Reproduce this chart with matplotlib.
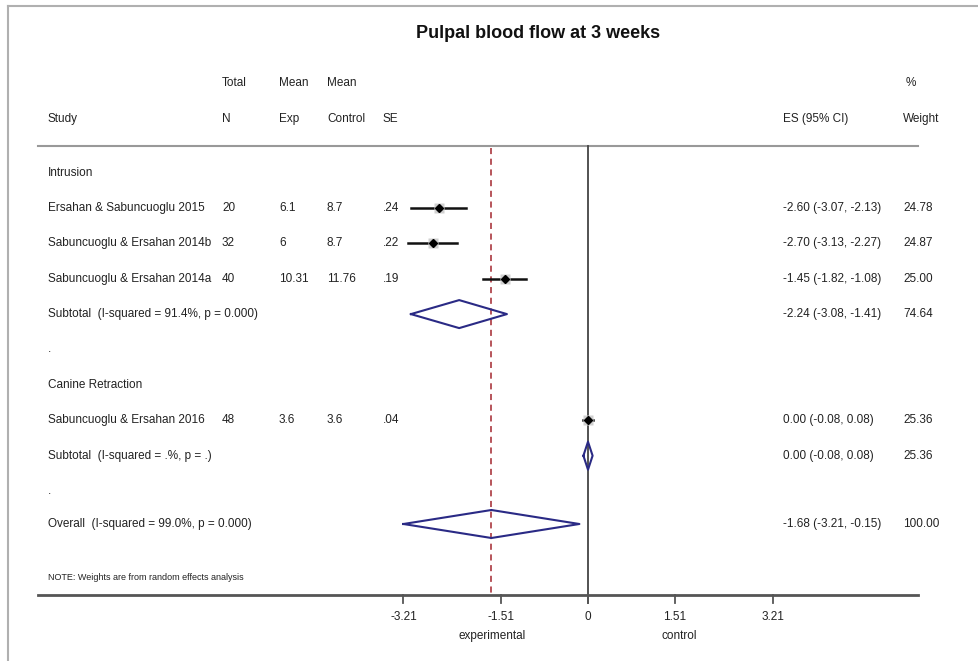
import matplotlib
matplotlib.use("Agg")
import matplotlib.pyplot as plt
from matplotlib.transforms import blended_transform_factory

plt.rcParams['font.family'] = ['Liberation Sans', 'DejaVu Sans']

# ---------------- data ----------------
title = "Pulpal blood flow at 3 weeks"
studies = ["Ersahan & Sabuncuoglu 2015", "Sabuncuoglu & Ersahan 2014b",
           "Sabuncuoglu & Ersahan 2014a", "Sabuncuoglu & Ersahan 2016"]
total_n = ["20", "32", "40", "48"]
mean_exp = ["6.1", "6", "10.31", "3.6"]
mean_ctrl = ["8.7", "8.7", "11.76", "3.6"]
se = [".24", ".22", ".19", ".04"]
es = [-2.60, -2.70, -1.45, 0.00]
lo = [-3.07, -3.13, -1.82, -0.08]
hi = [-2.13, -2.27, -1.08, 0.08]
weights = ["24.78", "24.87", "25.00", "25.36"]

sub_labels = ["Subtotal  (I-squared = 91.4%, p = 0.000)", "Subtotal  (I-squared = .%, p = .)"]
sub_es = [-2.24, 0.00]
sub_lo = [-3.08, -0.08]
sub_hi = [-1.41, 0.08]
sub_w = ["74.64", "25.36"]

overall_label = "Overall  (I-squared = 99.0%, p = 0.000)"
ov_es, ov_lo, ov_hi = -1.68, -3.21, -0.15
ov_w = "100.00"

groups = ["Intrusion", "Canine Retraction"]
ticks = [-3.21, -1.51, 0, 1.51, 3.21]
tick_labels = ["-3.21", "-1.51", "0", "1.51", "3.21"]
note = "NOTE: Weights are from random effects analysis"

# ---------------- layout ----------------
W, H = 979, 661
x0px, upx = 588.0, 57.5          # pixel of x=0, pixels per unit
fig = plt.figure(figsize=(W / 100, H / 100), dpi=100)
ax = fig.add_axes([0, 0, 1, 1])
ax.set_xlim(-x0px / upx, (W - x0px) / upx)
ax.set_ylim(H, 0)
ax.axis('off')
tr = blended_transform_factory(ax.transAxes, ax.transData)

def fx(p):
    return p / W

def dx(p):
    return (p - x0px) / upx

txt = dict(fontsize=8.5, color='#222222', va='center', transform=tr)

# border
ax.plot([dx(8), dx(8)], [H + 5, 6], color='#b0b0b0', lw=1.5, clip_on=False)
ax.plot([dx(8), dx(W + 5)], [6, 6], color='#b0b0b0', lw=1.5, clip_on=False)

ax.text(fx(538), 33, title, fontsize=13, fontweight='bold', ha='center',
        va='center', color='#111111', transform=tr)

col = dict(study=48, n=222, exp=279, ctrl=327, se=383, es=783, w=903)
yh1, yh2 = 83, 119
ax.text(fx(col['n']), yh1, "Total", **txt)
ax.text(fx(col['exp']), yh1, "Mean", **txt)
ax.text(fx(col['ctrl']), yh1, "Mean", **txt)
ax.text(fx(906), yh1, "%", **txt)
for k, s in [('study', 'Study'), ('n', 'N'), ('exp', 'Exp'), ('ctrl', 'Control'),
             ('se', 'SE'), ('es', 'ES (95% CI)'), ('w', 'Weight')]:
    ax.text(fx(col[k]), yh2, s, **txt)

y_top_line, y_axis = 146, 595
ax.plot([dx(38), dx(918)], [y_top_line, y_top_line], color='#999999', lw=1.5)

row0, step = 172.5, 35.4
def ry(i):
    return row0 + i * step

# vertical lines
ax.plot([0, 0], [y_top_line, y_axis + 8], color='#444444', lw=1.3, zorder=2)
ax.plot([ov_es, ov_es], [y_top_line + 2, y_axis], color='#a3262e', lw=1.1,
        dashes=(4, 3), zorder=2)

def diamond(c, l, h, y, hh=14):
    ax.plot([l, c, h, c, l], [y, y - hh, y, y + hh, y], color='#2a2a85', lw=1.5, zorder=4)

def fmt_ci(e, l, h):
    return f"{e:.2f} ({l:.2f}, {h:.2f})"

study_rows = [1, 2, 3, 7]
ax.text(fx(col['study']), ry(0), groups[0], **txt)
ax.text(fx(col['study']), ry(6), groups[1], **txt)
for i, r in enumerate(study_rows):
    y = ry(r)
    ax.text(fx(col['study']), y, studies[i], **txt)
    ax.text(fx(col['n']), y, total_n[i], **txt)
    ax.text(fx(col['exp']), y, mean_exp[i], **txt)
    ax.text(fx(col['ctrl']), y, mean_ctrl[i], **txt)
    ax.text(fx(col['se']), y, se[i], **txt)
    ax.text(fx(col['es']), y, fmt_ci(es[i], lo[i], hi[i]), **txt)
    ax.text(fx(col['w']), y, weights[i], **txt)
    ax.plot([lo[i], hi[i]], [y, y], color='#111111', lw=1.8, zorder=3)
    ax.plot([es[i]], [y], marker='s', ms=7, color='#d0d0d0', mec='none', zorder=3)
    ax.plot([es[i]], [y], marker='D', ms=4, color='#000000', zorder=5)

for j, r in enumerate([4, 8]):
    y = ry(r)
    ax.text(fx(col['study']), y, sub_labels[j], **txt)
    ax.text(fx(col['es']), y, fmt_ci(sub_es[j], sub_lo[j], sub_hi[j]), **txt)
    ax.text(fx(col['w']), y, sub_w[j], **txt)
    diamond(sub_es[j], sub_lo[j], sub_hi[j], y)

for r in [5, 9]:
    ax.text(fx(col['study']), ry(r), ".", **txt)

yo = 524
ax.text(fx(col['study']), yo, overall_label, **txt)
ax.text(fx(col['es']), yo, fmt_ci(ov_es, ov_lo, ov_hi), **txt)
ax.text(fx(col['w']), yo, ov_w, **txt)
diamond(ov_es, ov_lo, ov_hi, yo)

ax.text(fx(col['study']), 578, note, fontsize=6.5, color='#222222', va='center', transform=tr)

# x axis
ax.plot([dx(38), dx(918)], [y_axis, y_axis], color='#555555', lw=2, zorder=2)
for t, lab in zip(ticks, tick_labels):
    ax.plot([t, t], [y_axis, y_axis + 8], color='#555555', lw=1.3)
    ax.text(t, 617, lab, fontsize=8.5, color='#222222', ha='center', va='center')
ax.text(-1.66, 636, "experimental", fontsize=8.5, color='#222222', ha='center', va='center')
ax.text(1.58, 636, "control", fontsize=8.5, color='#222222', ha='center', va='center')

fig.savefig("out.png", dpi=100)
